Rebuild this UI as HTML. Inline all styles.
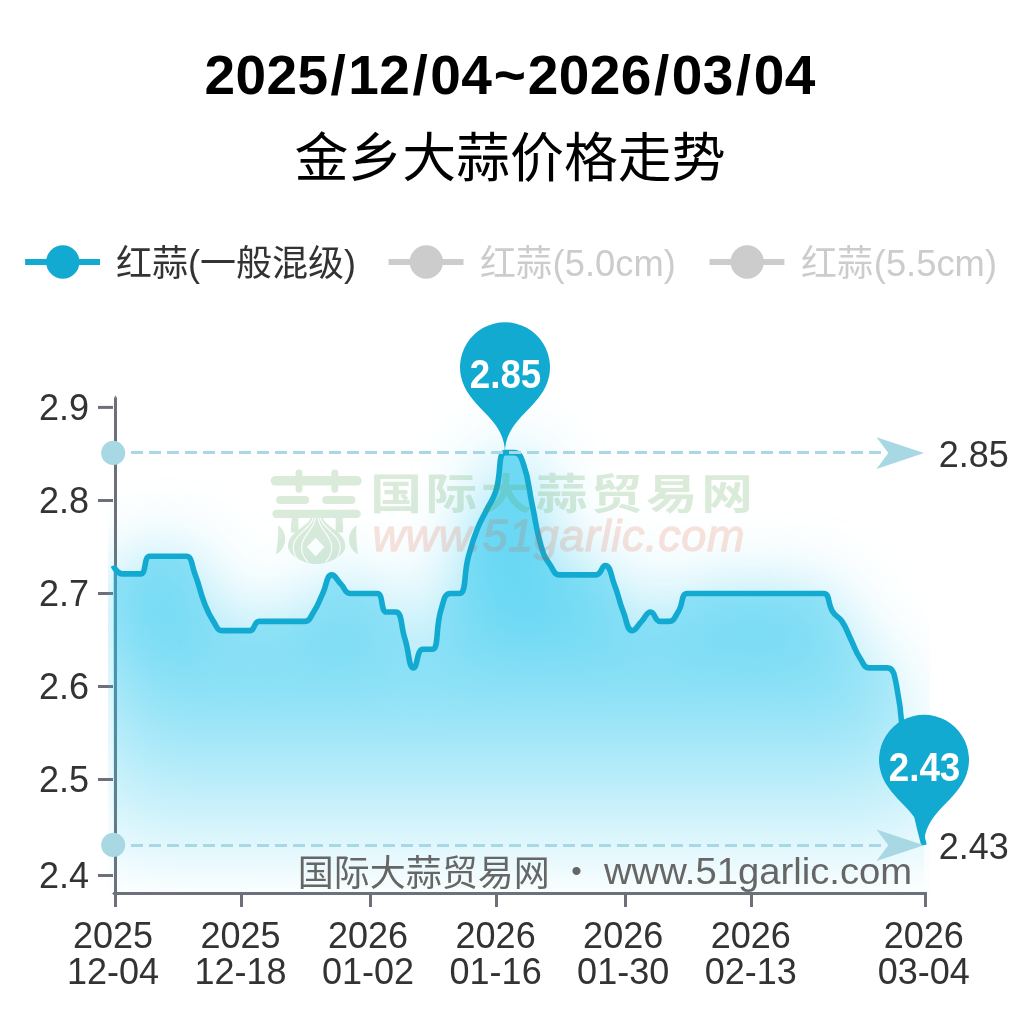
<!DOCTYPE html>
<html lang="zh-CN"><head><meta charset="utf-8"><title>金乡大蒜价格走势</title>
<style>html,body{margin:0;padding:0;background:#fff;}body{width:1015px;height:1030px;overflow:hidden;}svg{display:block;}text{font-family:'Liberation Sans', 'Noto Sans CJK SC', sans-serif;}</style></head><body>
<svg width="1015" height="1030" viewBox="0 0 1015 1030">
<defs>
<linearGradient id="ag" gradientUnits="userSpaceOnUse" x1="0" y1="452.6" x2="0" y2="893.5"><stop offset="0" stop-color="#1ec4ee" stop-opacity="0.600"/><stop offset="1" stop-color="#1ec4ee" stop-opacity="0"/></linearGradient>
<linearGradient id="sg" gradientUnits="userSpaceOnUse" x1="0" y1="452.6" x2="0" y2="893.5"><stop offset="0" stop-color="#1ec4ee" stop-opacity="0.700"/><stop offset="1" stop-color="#1ec4ee" stop-opacity="0"/></linearGradient>
<filter id="glow" filterUnits="userSpaceOnUse" x="-200" y="150" width="1415" height="1000" color-interpolation-filters="sRGB"><feGaussianBlur stdDeviation="36"/></filter>
<clipPath id="clip"><rect x="108" y="394" width="822" height="500.5"/></clipPath>
</defs>
<rect width="1015" height="1030" fill="#ffffff"/>
<text text-anchor="middle" font-size="55" font-weight="bold" fill="#000" y="94" x="219.7 250.7 281.7 312.7 338.2 363.6 394.6 420.1 445.6 476.6 509.8 543.1 574.1 605.1 636.1 661.6 687.0 718.0 743.5 769.0 800.0">2025/12/04~2026/03/04</text>
<text x="510.00" y="177.00" font-size="53.9" fill="#000" text-anchor="middle">金乡大蒜价格走势</text>
<line x1="25.1" y1="262" x2="100.0" y2="262" stroke="#13aad2" stroke-width="6"/>
<circle cx="62.8" cy="262" r="16.7" fill="#13aad2"/>
<text x="116.00" y="275.60" font-size="36" fill="#333">红蒜(一般混级)</text>
<line x1="388.6" y1="262" x2="463.5" y2="262" stroke="#cccccc" stroke-width="6"/>
<circle cx="426.3" cy="262" r="16.7" fill="#cccccc"/>
<text x="480.00" y="275.6" font-size="36" fill="#cccccc">红蒜<tspan x="552.60" textLength="123.2" lengthAdjust="spacingAndGlyphs">(5.0cm)</tspan></text>
<line x1="709.5" y1="262" x2="784.4" y2="262" stroke="#cccccc" stroke-width="6"/>
<circle cx="747.2" cy="262" r="16.7" fill="#cccccc"/>
<text x="801.00" y="275.6" font-size="36" fill="#cccccc">红蒜<tspan x="873.80" textLength="123.2" lengthAdjust="spacingAndGlyphs">(5.5cm)</tspan></text>
<g stroke="#6e7079" stroke-width="3" fill="none">
<path d="M115.5 397.4 L115.5 907"/>
<path d="M114.2 397.6 L115.5 395.6 L116.8 397.6 Z" fill="#6e7079" stroke="none"/>
<path d="M114 892.1 L112 893.5 L114 894.9 Z" fill="#6e7079" stroke="none"/>
<line x1="113.5" y1="893.5" x2="927" y2="893.5"/>
<line x1="98" y1="407.4" x2="113" y2="407.4"/>
<line x1="98" y1="500.5" x2="113" y2="500.5"/>
<line x1="98" y1="593.5" x2="113" y2="593.5"/>
<line x1="98" y1="686.5" x2="113" y2="686.5"/>
<line x1="98" y1="779.5" x2="113" y2="779.5"/>
<line x1="98" y1="875.5" x2="113" y2="875.5"/>
<line x1="241.5" y1="893.5" x2="241.5" y2="907"/>
<line x1="370.5" y1="893.5" x2="370.5" y2="907"/>
<line x1="496.5" y1="893.5" x2="496.5" y2="907"/>
<line x1="625.5" y1="893.5" x2="625.5" y2="907"/>
<line x1="751.5" y1="893.5" x2="751.5" y2="907"/>
<line x1="925.5" y1="893.5" x2="925.5" y2="907"/>
</g>
<g clip-path="url(#clip)">
<path d="M113.20 565.55 C113.20 565.55 117.06 573.92 122.31 573.92 C126.17 573.92 126.87 573.92 131.42 573.92 C135.98 573.92 137.67 573.92 140.53 573.92 C146.78 573.92 143.39 556.25 149.64 556.25 C152.50 556.25 154.20 556.25 158.75 556.25 C163.31 556.25 163.31 556.25 167.86 556.25 C172.42 556.25 172.42 556.25 176.97 556.25 C181.53 556.25 183.30 556.25 186.08 556.25 C192.41 556.25 191.42 565.23 195.19 574.85 C200.53 588.49 198.96 589.13 204.30 602.76 C208.07 612.38 207.82 612.80 213.41 621.37 C216.93 626.75 217.16 630.67 222.52 630.67 C226.27 630.67 227.08 630.67 231.63 630.67 C236.19 630.67 236.19 630.67 240.74 630.67 C245.30 630.67 246.10 630.67 249.85 630.67 C255.21 630.67 253.60 621.37 258.96 621.37 C262.71 621.37 263.52 621.37 268.07 621.37 C272.63 621.37 272.63 621.37 277.18 621.37 C281.74 621.37 281.74 621.37 286.29 621.37 C290.85 621.37 290.85 621.37 295.40 621.37 C299.96 621.37 300.76 621.37 304.51 621.37 C309.87 621.37 310.11 617.45 313.62 612.07 C319.22 603.50 318.18 602.76 322.73 593.46 C327.29 584.16 326.25 574.85 331.84 574.85 C335.36 574.85 336.40 579.51 340.95 584.16 C345.51 588.81 344.70 593.46 350.06 593.46 C353.81 593.46 354.62 593.46 359.17 593.46 C363.73 593.46 363.73 593.46 368.28 593.46 C372.84 593.46 374.61 593.46 377.39 593.46 C383.72 593.46 380.18 612.07 386.50 612.07 C389.29 612.07 393.35 612.07 395.61 612.07 C402.46 612.07 400.44 625.00 404.72 638.11 C409.55 652.91 408.36 667.88 413.83 667.88 C417.47 667.88 416.62 649.28 422.94 649.28 C425.73 649.28 430.40 649.28 432.05 649.28 C439.51 649.28 434.86 628.59 441.16 609.28 C443.97 600.68 444.20 593.46 450.27 593.46 C453.31 593.46 457.63 593.46 459.38 593.46 C466.74 593.46 463.34 574.68 468.49 556.25 C472.45 542.12 472.26 541.97 477.60 528.34 C481.37 518.72 482.16 519.04 486.71 509.73 C491.27 500.43 492.69 500.94 495.82 491.13 C501.80 472.38 497.53 452.61 504.93 452.61 C506.64 452.61 510.45 452.61 514.04 452.61 C519.56 452.61 520.91 456.76 523.16 463.22 C530.02 483.00 527.71 484.15 532.27 505.08 C536.82 526.01 535.23 526.56 541.38 546.94 C544.34 556.80 544.89 556.98 550.49 565.55 C554.00 570.94 554.24 574.85 559.60 574.85 C563.35 574.85 564.15 574.85 568.71 574.85 C573.26 574.85 573.26 574.85 577.82 574.85 C582.37 574.85 582.37 574.85 586.93 574.85 C591.48 574.85 592.29 574.85 596.04 574.85 C601.40 574.85 601.63 565.55 605.15 565.55 C610.74 565.55 610.49 574.54 614.26 584.16 C619.60 597.79 618.03 598.43 623.37 612.07 C627.14 621.69 626.88 630.67 632.48 630.67 C635.99 630.67 637.03 626.02 641.59 621.37 C646.14 616.72 646.14 612.07 650.70 612.07 C655.25 612.07 654.45 621.37 659.81 621.37 C663.56 621.37 665.17 621.37 668.92 621.37 C674.28 621.37 674.51 617.45 678.03 612.07 C683.62 603.50 680.81 593.46 687.14 593.46 C689.92 593.46 691.69 593.46 696.25 593.46 C700.80 593.46 700.80 593.46 705.36 593.46 C709.91 593.46 709.91 593.46 714.47 593.46 C719.02 593.46 719.02 593.46 723.58 593.46 C728.13 593.46 728.13 593.46 732.69 593.46 C737.24 593.46 737.24 593.46 741.80 593.46 C746.35 593.46 746.35 593.46 750.91 593.46 C755.46 593.46 755.46 593.46 760.02 593.46 C764.57 593.46 764.57 593.46 769.13 593.46 C773.68 593.46 773.68 593.46 778.24 593.46 C782.79 593.46 782.79 593.46 787.35 593.46 C791.90 593.46 791.90 593.46 796.46 593.46 C801.01 593.46 801.01 593.46 805.57 593.46 C810.12 593.46 810.12 593.46 814.68 593.46 C819.23 593.46 821.01 593.46 823.79 593.46 C830.12 593.46 827.30 603.50 832.90 612.07 C836.41 617.45 838.49 615.98 842.01 621.37 C847.60 629.94 846.56 630.67 851.12 639.97 C855.67 649.28 854.64 650.01 860.23 658.58 C863.75 663.97 863.98 667.88 869.34 667.88 C873.09 667.88 873.89 667.88 878.45 667.88 C883.00 667.88 884.78 667.88 887.56 667.88 C893.89 667.88 894.70 676.42 896.67 686.49 C903.81 722.94 900.20 723.87 905.78 760.91 C909.31 784.33 909.88 784.27 914.89 807.43 C918.99 826.37 924.00 845.11 924.00 845.11 L924.00 893.50 L113.20 893.50 Z" fill="url(#sg)" filter="url(#glow)"/>
<path d="M113.20 565.55 C113.20 565.55 117.06 573.92 122.31 573.92 C126.17 573.92 126.87 573.92 131.42 573.92 C135.98 573.92 137.67 573.92 140.53 573.92 C146.78 573.92 143.39 556.25 149.64 556.25 C152.50 556.25 154.20 556.25 158.75 556.25 C163.31 556.25 163.31 556.25 167.86 556.25 C172.42 556.25 172.42 556.25 176.97 556.25 C181.53 556.25 183.30 556.25 186.08 556.25 C192.41 556.25 191.42 565.23 195.19 574.85 C200.53 588.49 198.96 589.13 204.30 602.76 C208.07 612.38 207.82 612.80 213.41 621.37 C216.93 626.75 217.16 630.67 222.52 630.67 C226.27 630.67 227.08 630.67 231.63 630.67 C236.19 630.67 236.19 630.67 240.74 630.67 C245.30 630.67 246.10 630.67 249.85 630.67 C255.21 630.67 253.60 621.37 258.96 621.37 C262.71 621.37 263.52 621.37 268.07 621.37 C272.63 621.37 272.63 621.37 277.18 621.37 C281.74 621.37 281.74 621.37 286.29 621.37 C290.85 621.37 290.85 621.37 295.40 621.37 C299.96 621.37 300.76 621.37 304.51 621.37 C309.87 621.37 310.11 617.45 313.62 612.07 C319.22 603.50 318.18 602.76 322.73 593.46 C327.29 584.16 326.25 574.85 331.84 574.85 C335.36 574.85 336.40 579.51 340.95 584.16 C345.51 588.81 344.70 593.46 350.06 593.46 C353.81 593.46 354.62 593.46 359.17 593.46 C363.73 593.46 363.73 593.46 368.28 593.46 C372.84 593.46 374.61 593.46 377.39 593.46 C383.72 593.46 380.18 612.07 386.50 612.07 C389.29 612.07 393.35 612.07 395.61 612.07 C402.46 612.07 400.44 625.00 404.72 638.11 C409.55 652.91 408.36 667.88 413.83 667.88 C417.47 667.88 416.62 649.28 422.94 649.28 C425.73 649.28 430.40 649.28 432.05 649.28 C439.51 649.28 434.86 628.59 441.16 609.28 C443.97 600.68 444.20 593.46 450.27 593.46 C453.31 593.46 457.63 593.46 459.38 593.46 C466.74 593.46 463.34 574.68 468.49 556.25 C472.45 542.12 472.26 541.97 477.60 528.34 C481.37 518.72 482.16 519.04 486.71 509.73 C491.27 500.43 492.69 500.94 495.82 491.13 C501.80 472.38 497.53 452.61 504.93 452.61 C506.64 452.61 510.45 452.61 514.04 452.61 C519.56 452.61 520.91 456.76 523.16 463.22 C530.02 483.00 527.71 484.15 532.27 505.08 C536.82 526.01 535.23 526.56 541.38 546.94 C544.34 556.80 544.89 556.98 550.49 565.55 C554.00 570.94 554.24 574.85 559.60 574.85 C563.35 574.85 564.15 574.85 568.71 574.85 C573.26 574.85 573.26 574.85 577.82 574.85 C582.37 574.85 582.37 574.85 586.93 574.85 C591.48 574.85 592.29 574.85 596.04 574.85 C601.40 574.85 601.63 565.55 605.15 565.55 C610.74 565.55 610.49 574.54 614.26 584.16 C619.60 597.79 618.03 598.43 623.37 612.07 C627.14 621.69 626.88 630.67 632.48 630.67 C635.99 630.67 637.03 626.02 641.59 621.37 C646.14 616.72 646.14 612.07 650.70 612.07 C655.25 612.07 654.45 621.37 659.81 621.37 C663.56 621.37 665.17 621.37 668.92 621.37 C674.28 621.37 674.51 617.45 678.03 612.07 C683.62 603.50 680.81 593.46 687.14 593.46 C689.92 593.46 691.69 593.46 696.25 593.46 C700.80 593.46 700.80 593.46 705.36 593.46 C709.91 593.46 709.91 593.46 714.47 593.46 C719.02 593.46 719.02 593.46 723.58 593.46 C728.13 593.46 728.13 593.46 732.69 593.46 C737.24 593.46 737.24 593.46 741.80 593.46 C746.35 593.46 746.35 593.46 750.91 593.46 C755.46 593.46 755.46 593.46 760.02 593.46 C764.57 593.46 764.57 593.46 769.13 593.46 C773.68 593.46 773.68 593.46 778.24 593.46 C782.79 593.46 782.79 593.46 787.35 593.46 C791.90 593.46 791.90 593.46 796.46 593.46 C801.01 593.46 801.01 593.46 805.57 593.46 C810.12 593.46 810.12 593.46 814.68 593.46 C819.23 593.46 821.01 593.46 823.79 593.46 C830.12 593.46 827.30 603.50 832.90 612.07 C836.41 617.45 838.49 615.98 842.01 621.37 C847.60 629.94 846.56 630.67 851.12 639.97 C855.67 649.28 854.64 650.01 860.23 658.58 C863.75 663.97 863.98 667.88 869.34 667.88 C873.09 667.88 873.89 667.88 878.45 667.88 C883.00 667.88 884.78 667.88 887.56 667.88 C893.89 667.88 894.70 676.42 896.67 686.49 C903.81 722.94 900.20 723.87 905.78 760.91 C909.31 784.33 909.88 784.27 914.89 807.43 C918.99 826.37 924.00 845.11 924.00 845.11 L924.00 893.50 L113.20 893.50 Z" fill="url(#ag)"/>
</g>
<text transform="translate(89.00 419.50) scale(0.9870 1)" font-size="36.5" fill="#333333" text-anchor="end">2.9</text>
<text transform="translate(89.00 512.60) scale(0.9870 1)" font-size="36.5" fill="#333333" text-anchor="end">2.8</text>
<text transform="translate(89.00 605.60) scale(0.9870 1)" font-size="36.5" fill="#333333" text-anchor="end">2.7</text>
<text transform="translate(89.00 698.60) scale(0.9870 1)" font-size="36.5" fill="#333333" text-anchor="end">2.6</text>
<text transform="translate(89.00 791.60) scale(0.9870 1)" font-size="36.5" fill="#333333" text-anchor="end">2.5</text>
<text transform="translate(89.00 887.60) scale(0.9870 1)" font-size="36.5" fill="#333333" text-anchor="end">2.4</text>
<text transform="translate(113.00 947.60) scale(0.9870 1)" font-size="36.5" fill="#333333" text-anchor="middle">2025</text>
<text transform="translate(113.00 983.55) scale(0.9870 1)" font-size="36.5" fill="#333333" text-anchor="middle">12-04</text>
<text transform="translate(240.54 947.60) scale(0.9870 1)" font-size="36.5" fill="#333333" text-anchor="middle">2025</text>
<text transform="translate(240.54 983.55) scale(0.9870 1)" font-size="36.5" fill="#333333" text-anchor="middle">12-18</text>
<text transform="translate(368.08 947.60) scale(0.9870 1)" font-size="36.5" fill="#333333" text-anchor="middle">2026</text>
<text transform="translate(368.08 983.55) scale(0.9870 1)" font-size="36.5" fill="#333333" text-anchor="middle">01-02</text>
<text transform="translate(495.62 947.60) scale(0.9870 1)" font-size="36.5" fill="#333333" text-anchor="middle">2026</text>
<text transform="translate(495.62 983.55) scale(0.9870 1)" font-size="36.5" fill="#333333" text-anchor="middle">01-16</text>
<text transform="translate(623.17 947.60) scale(0.9870 1)" font-size="36.5" fill="#333333" text-anchor="middle">2026</text>
<text transform="translate(623.17 983.55) scale(0.9870 1)" font-size="36.5" fill="#333333" text-anchor="middle">01-30</text>
<text transform="translate(750.71 947.60) scale(0.9870 1)" font-size="36.5" fill="#333333" text-anchor="middle">2026</text>
<text transform="translate(750.71 983.55) scale(0.9870 1)" font-size="36.5" fill="#333333" text-anchor="middle">02-13</text>
<text transform="translate(923.80 947.60) scale(0.9870 1)" font-size="36.5" fill="#333333" text-anchor="middle">2026</text>
<text transform="translate(923.80 983.55) scale(0.9870 1)" font-size="36.5" fill="#333333" text-anchor="middle">03-04</text>
<text x="297.7" y="886" font-size="36" fill="#666666">国际大蒜贸易网 <tspan x="581.5" y="881.2" font-size="30" text-anchor="middle">•</tspan> <tspan x="604" y="884.3" font-size="36.8" textLength="308.2" lengthAdjust="spacingAndGlyphs">www.51garlic.com</tspan></text>
<g clip-path="url(#clip)">
<path d="M113.20 565.55 C113.20 565.55 117.06 573.92 122.31 573.92 C126.17 573.92 126.87 573.92 131.42 573.92 C135.98 573.92 137.67 573.92 140.53 573.92 C146.78 573.92 143.39 556.25 149.64 556.25 C152.50 556.25 154.20 556.25 158.75 556.25 C163.31 556.25 163.31 556.25 167.86 556.25 C172.42 556.25 172.42 556.25 176.97 556.25 C181.53 556.25 183.30 556.25 186.08 556.25 C192.41 556.25 191.42 565.23 195.19 574.85 C200.53 588.49 198.96 589.13 204.30 602.76 C208.07 612.38 207.82 612.80 213.41 621.37 C216.93 626.75 217.16 630.67 222.52 630.67 C226.27 630.67 227.08 630.67 231.63 630.67 C236.19 630.67 236.19 630.67 240.74 630.67 C245.30 630.67 246.10 630.67 249.85 630.67 C255.21 630.67 253.60 621.37 258.96 621.37 C262.71 621.37 263.52 621.37 268.07 621.37 C272.63 621.37 272.63 621.37 277.18 621.37 C281.74 621.37 281.74 621.37 286.29 621.37 C290.85 621.37 290.85 621.37 295.40 621.37 C299.96 621.37 300.76 621.37 304.51 621.37 C309.87 621.37 310.11 617.45 313.62 612.07 C319.22 603.50 318.18 602.76 322.73 593.46 C327.29 584.16 326.25 574.85 331.84 574.85 C335.36 574.85 336.40 579.51 340.95 584.16 C345.51 588.81 344.70 593.46 350.06 593.46 C353.81 593.46 354.62 593.46 359.17 593.46 C363.73 593.46 363.73 593.46 368.28 593.46 C372.84 593.46 374.61 593.46 377.39 593.46 C383.72 593.46 380.18 612.07 386.50 612.07 C389.29 612.07 393.35 612.07 395.61 612.07 C402.46 612.07 400.44 625.00 404.72 638.11 C409.55 652.91 408.36 667.88 413.83 667.88 C417.47 667.88 416.62 649.28 422.94 649.28 C425.73 649.28 430.40 649.28 432.05 649.28 C439.51 649.28 434.86 628.59 441.16 609.28 C443.97 600.68 444.20 593.46 450.27 593.46 C453.31 593.46 457.63 593.46 459.38 593.46 C466.74 593.46 463.34 574.68 468.49 556.25 C472.45 542.12 472.26 541.97 477.60 528.34 C481.37 518.72 482.16 519.04 486.71 509.73 C491.27 500.43 492.69 500.94 495.82 491.13 C501.80 472.38 497.53 452.61 504.93 452.61 C506.64 452.61 510.45 452.61 514.04 452.61 C519.56 452.61 520.91 456.76 523.16 463.22 C530.02 483.00 527.71 484.15 532.27 505.08 C536.82 526.01 535.23 526.56 541.38 546.94 C544.34 556.80 544.89 556.98 550.49 565.55 C554.00 570.94 554.24 574.85 559.60 574.85 C563.35 574.85 564.15 574.85 568.71 574.85 C573.26 574.85 573.26 574.85 577.82 574.85 C582.37 574.85 582.37 574.85 586.93 574.85 C591.48 574.85 592.29 574.85 596.04 574.85 C601.40 574.85 601.63 565.55 605.15 565.55 C610.74 565.55 610.49 574.54 614.26 584.16 C619.60 597.79 618.03 598.43 623.37 612.07 C627.14 621.69 626.88 630.67 632.48 630.67 C635.99 630.67 637.03 626.02 641.59 621.37 C646.14 616.72 646.14 612.07 650.70 612.07 C655.25 612.07 654.45 621.37 659.81 621.37 C663.56 621.37 665.17 621.37 668.92 621.37 C674.28 621.37 674.51 617.45 678.03 612.07 C683.62 603.50 680.81 593.46 687.14 593.46 C689.92 593.46 691.69 593.46 696.25 593.46 C700.80 593.46 700.80 593.46 705.36 593.46 C709.91 593.46 709.91 593.46 714.47 593.46 C719.02 593.46 719.02 593.46 723.58 593.46 C728.13 593.46 728.13 593.46 732.69 593.46 C737.24 593.46 737.24 593.46 741.80 593.46 C746.35 593.46 746.35 593.46 750.91 593.46 C755.46 593.46 755.46 593.46 760.02 593.46 C764.57 593.46 764.57 593.46 769.13 593.46 C773.68 593.46 773.68 593.46 778.24 593.46 C782.79 593.46 782.79 593.46 787.35 593.46 C791.90 593.46 791.90 593.46 796.46 593.46 C801.01 593.46 801.01 593.46 805.57 593.46 C810.12 593.46 810.12 593.46 814.68 593.46 C819.23 593.46 821.01 593.46 823.79 593.46 C830.12 593.46 827.30 603.50 832.90 612.07 C836.41 617.45 838.49 615.98 842.01 621.37 C847.60 629.94 846.56 630.67 851.12 639.97 C855.67 649.28 854.64 650.01 860.23 658.58 C863.75 663.97 863.98 667.88 869.34 667.88 C873.09 667.88 873.89 667.88 878.45 667.88 C883.00 667.88 884.78 667.88 887.56 667.88 C893.89 667.88 894.70 676.42 896.67 686.49 C903.81 722.94 900.20 723.87 905.78 760.91 C909.31 784.33 909.88 784.27 914.89 807.43 C918.99 826.37 924.00 845.11 924.00 845.11" fill="none" stroke="#13aad2" stroke-width="5.6" stroke-linejoin="round" stroke-linecap="butt"/>
</g>
<g id="wm" opacity="0.21">
<g fill="#4f9d4f">
<rect x="270.7" y="476.1" width="91" height="9.5" rx="4.75"/>
<rect x="295.6" y="469.6" width="6.8" height="23.1" rx="3.4"/>
<rect x="331.4" y="469.6" width="6.9" height="23.1" rx="3.4"/>
<rect x="276.1" y="496.1" width="33" height="8" rx="4"/>
<rect x="322.2" y="496.1" width="33.2" height="8" rx="4"/>
<rect x="272.3" y="509.7" width="88.5" height="8.4" rx="4.2"/>
<rect x="291" y="514" width="7.3" height="18.5"/>
<rect x="335.7" y="514" width="7.4" height="18.5"/>
<path d="M310.6 517.6 C309 527 288 531 288 546.5 C288 554.5 302.5 564 316.6 564 C330.7 564 345.4 554.5 345.4 546.5 C345.4 531 324.4 527 322.8 517.6 Z"/>
<path d="M278 525.2 C287.5 531 288.5 547.5 276 554.3 C277.6 545 278.6 535 278 525.2 Z"/>
<path d="M356.5 525.6 C346.8 531.5 345.8 547.5 358 554.3 C356.6 545 355.8 535 356.5 525.6 Z"/>
</g>
<g fill="none" stroke="#fff" stroke-width="1.1" stroke-linecap="round">
<path d="M313.2 518.2 C311.5 528 293.3 535 293.3 546.5 C293.3 552 295 556.5 298.2 560"/>
<path d="M320.4 518.2 C322 528 340.2 535 340.2 546.5 C340.2 552 338.5 556.5 335.3 560"/>
<path d="M315.3 518.2 C314.5 529 301.6 536 301.6 547 C301.6 553 304 558 307.8 562"/>
<path d="M318.3 518.2 C319 529 331.8 536 331.8 547 C331.8 553 329.5 558 325.7 562"/>
<path d="M289.5 537 C287.5 530 291.5 524 291.3 518.5"/>
<path d="M343.8 537 C345.8 530 342.8 524 343 518.5"/>
</g>
<path d="M315.7 537.8 L324.4 547.1 L315.7 556.4 L307 547.1 Z" fill="#fff"/>
<text transform="translate(370.20 509.40) scale(1.2300 1)" font-size="42" fill="#4f9d4f" font-weight="bold" letter-spacing="2.88">国际大蒜贸易网</text>
<text x="372.50" y="551.00" font-size="45" fill="#e2562f" font-style="italic" textLength="372" lengthAdjust="spacing" stroke="#e2562f" stroke-width="1.3" stroke-linejoin="round" opacity="0.8">www.51garlic.com</text>
</g>
<line x1="113" y1="452.50" x2="882" y2="452.50" stroke="#a8d8e4" stroke-width="3" stroke-dasharray="12 6"/>
<circle cx="113.2" cy="452.90" r="12.05" fill="#a8d8e4"/>
<path d="M924 453.10 L876.5 437.30 L888.3 453.10 L876.5 468.90 Z" fill="#a8d8e4"/>
<text transform="translate(938.80 466.50) scale(0.9870 1)" font-size="36.5" fill="#333333">2.85</text>
<line x1="113" y1="845.50" x2="882" y2="845.50" stroke="#a8d8e4" stroke-width="3" stroke-dasharray="12 6"/>
<circle cx="113.2" cy="844.90" r="12.05" fill="#a8d8e4"/>
<path d="M924 845.20 L876.5 829.40 L888.3 845.20 L876.5 861.00 Z" fill="#a8d8e4"/>
<text transform="translate(938.80 858.90) scale(0.9870 1)" font-size="36.5" fill="#333333">2.43</text>
<path d="M464.34 386.57 A45.00 45.00 0 1 1 545.66 386.57 C534.09 410.97 505.00 421.50 505.00 453.00 C505.00 421.50 475.91 410.97 464.34 386.57 Z" fill="#13aad2"/>
<text transform="translate(505.50 388.09) scale(0.9200 1)" font-size="40" fill="#fff" text-anchor="middle" font-weight="bold">2.85</text>
<path d="M883.34 779.07 A45.00 45.00 0 1 1 964.66 779.07 C953.09 803.47 924.00 814.00 924.00 845.50 C924.00 814.00 894.91 803.47 883.34 779.07 Z" fill="#13aad2"/>
<text transform="translate(924.50 781.09) scale(0.9200 1)" font-size="40" fill="#fff" text-anchor="middle" font-weight="bold">2.43</text>
</svg></body></html>
